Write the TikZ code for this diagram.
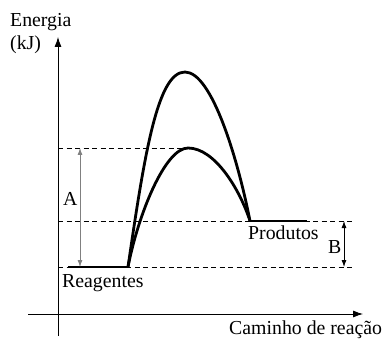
\documentclass[tikz,border=0pt]{standalone}
\usepackage{fontspec}
\setmainfont{Liberation Serif}
\usetikzlibrary{arrows.meta}
\begin{document}
\begin{tikzpicture}[x=1pt,y=-1pt,
  axis/.style={line width=0.8pt},
  guide/.style={line width=0.8pt,dash pattern=on 5pt off 3.5pt},
  level/.style={line width=2.8pt},
  curve/.style={line width=2.8pt},
  dim/.style={line width=0.8pt,{Latex[length=7pt,width=5pt]}-{Latex[length=7pt,width=5pt]}},
  lbl/.style={anchor=base west,inner sep=0pt,font=\fontsize{19.8}{23}\selectfont}]
\useasboundingbox (0,0) rectangle (387,344);
% coordinates
\coordinate (yb) at (58,336);
\coordinate (yt) at (58,37);
\coordinate (xl) at (28,314);
\coordinate (xr) at (363,314);
\coordinate (r0) at (68,267);
\coordinate (r1) at (128,267);
\coordinate (p0) at (250,221);
\coordinate (p1) at (307,221);
\coordinate (hi) at (185,72);
\coordinate (lo) at (188,148);
\coordinate (dt0) at (58,148);
\coordinate (dm0) at (58,221);
\coordinate (dm1) at (353,221);
\coordinate (db0) at (58,267);
\coordinate (db1) at (353,267);
\coordinate (a0) at (80,148);
\coordinate (a1) at (80,267);
\coordinate (b0) at (344,221);
\coordinate (b1) at (344,267);
% axes
\draw[axis,-{Latex[length=10pt,width=7pt]}] (yb) -- (yt);
\draw[axis,-{Latex[length=10pt,width=7pt]}] (xl) -- (xr);
% guides
\draw[guide] (dt0) -- (lo);
\draw[guide] (dm0) -- (dm1);
\draw[guide] (db0) -- (db1);
% levels
\draw[level] (r0) -- (r1);
\draw[level] (p0) -- (p1);
% curves
\draw[curve] (r1) .. controls (145,150) and (158,72) .. (hi)
                  .. controls (212,72) and (238,160) .. (p0);
\draw[curve] (r1) .. controls (138,215) and (165,148) .. (lo)
                  .. controls (215,148) and (240,190) .. (p0);
% dimension arrows
\draw[dim,draw=gray,fill=gray] (a0) -- (a1);
\draw[dim] (b0) -- (b1);
% labels
\node[lbl] (en) at (10,27) {Energia};
\node[lbl] (kj) at (10,50) {(kJ)};
\node[lbl] (la) at (63,205) {A};
\node[lbl] (lb) at (328,253) {B};
\node[lbl] (re) at (62,287) {Reagentes};
\node[lbl] (pr) at (248,239) {Produtos};
\node[lbl] (cr) at (229,334) {Caminho de reação};
\end{tikzpicture}
\end{document}
